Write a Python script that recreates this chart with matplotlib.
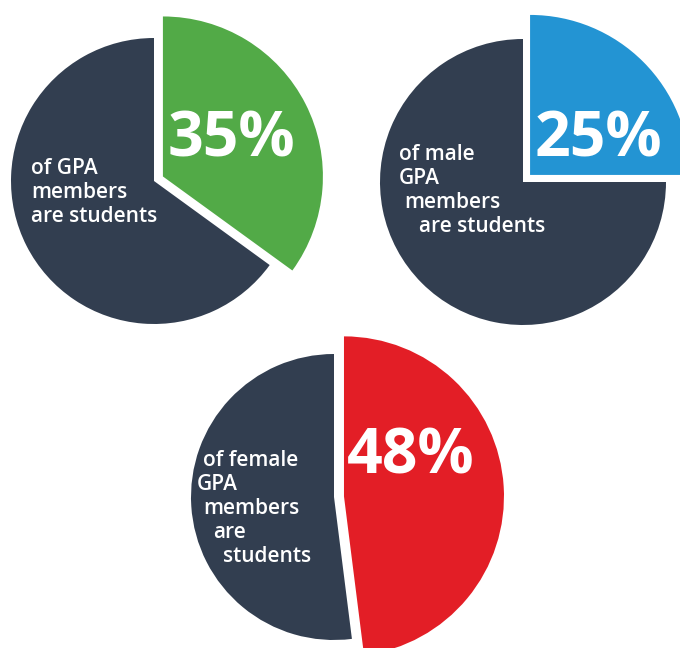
import matplotlib
matplotlib.use("Agg")
import matplotlib.pyplot as plt

# Share of GPA members who are students
groups = ["all", "male", "female"]
shares = [35, 25, 48]
value_labels = ["35%", "25%", "48%"]
captions = [
    ["of GPA", "members", "are students"],
    ["of male", "GPA", "members", "are students"],
    ["of female", "GPA", "members", "are", "students"],
]

highlight_colors = ["#52AA47", "#2394D3", "#E31E26"]
rest_color = "#323E50"

W, H = 680, 648
fig = plt.figure(figsize=(W / 100, H / 100), dpi=100)
fig.patch.set_facecolor("white")
ax = fig.add_axes([0, 0, 1, 1])

# layout in pixel units (top-left origin), converted to data coords below
centers = [(154, 181), (523, 182), (334, 497)]
base_r = 143
big_r = 160
gap = 10
value_pos = [(231, 140), (598, 140), (411, 457)]
caption_x = [
    [31, 31, 31],
    [399, 399, 404, 419],
    [203, 197, 203, 213, 223],
]
caption_y0 = [169, 154, 461]
caption_step = [23.5, 24, 23.8]

for i, share in enumerate(shares):
    cx, cy = centers[i]
    wedges, _ = ax.pie(
        [share, 100 - share],
        colors=[highlight_colors[i], rest_color],
        startangle=90,
        counterclock=False,
        radius=base_r,
        center=(cx, H - cy),
        explode=[gap, 0],
        wedgeprops=dict(linewidth=0, antialiased=True),
    )
    wedges[0].set_radius(big_r)

    vx, vy = value_pos[i]
    ax.text(vx, H - vy, value_labels[i], color="white", fontsize=45,
            fontfamily="Open Sans", fontweight="bold", ha="center", va="center")

    for j, line in enumerate(captions[i]):
        ax.text(caption_x[i][j], H - (caption_y0[i] + j * caption_step[i]), line,
                color="white", fontsize=15, fontfamily="Open Sans",
                fontweight="semibold", ha="left", va="center")

ax.set_xlim(0, W)
ax.set_ylim(0, H)
ax.set_aspect("auto")
ax.axis("off")

fig.savefig("out.png", dpi=100, facecolor="white")
